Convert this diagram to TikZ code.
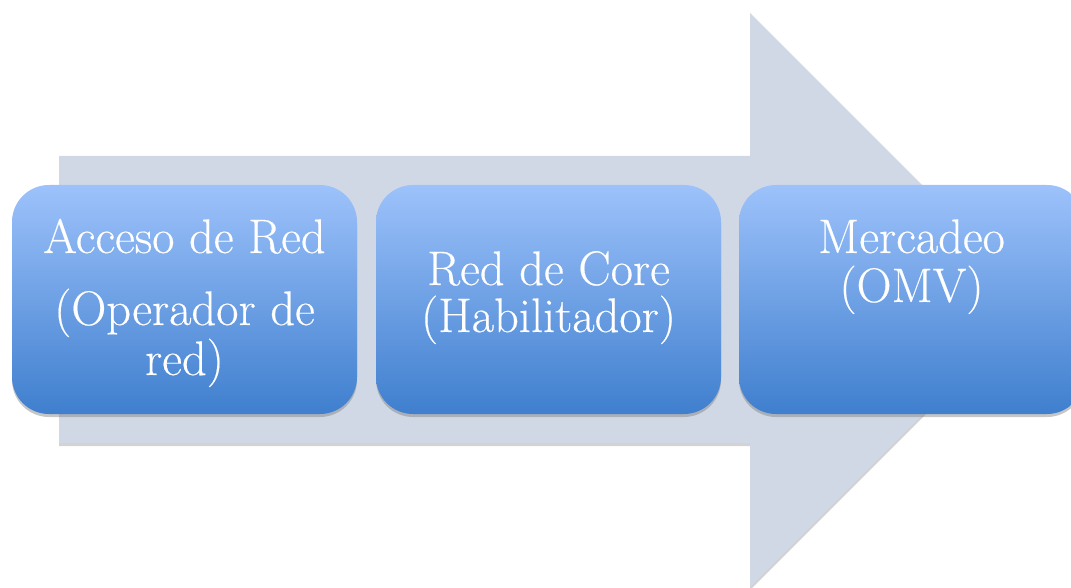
\documentclass[tikz,border=0pt]{standalone}
\usepackage{fontspec}
\setmainfont{Latin Modern Roman}[FakeBold=0.35]
\usetikzlibrary{shadows}
\definecolor{shaftc}{HTML}{D0D8E6}
\definecolor{boxtop}{HTML}{9DC2FB}
\definecolor{boxmid}{HTML}{7DA8EA}
\definecolor{boxbot}{HTML}{3F7FCE}
\tikzset{
  bigarrow/.style={fill=shaftc, draw=none, drop shadow={shadow xshift=0pt, shadow yshift=-3pt, opacity=0.35}},
  stage/.style={rounded corners=37pt, minimum width=345pt, minimum height=229pt, inner sep=0pt,
    top color=boxtop, middle color=boxmid, bottom color=boxbot, draw=none,
    drop shadow={shadow xshift=0pt, shadow yshift=-3pt, opacity=0.45}},
  lbl/.style={text=white, anchor=base, inner sep=0pt, font=\fontsize{48.5}{56}\selectfont}
}
\begin{document}
\begin{tikzpicture}[x=1pt, y=-1pt]
\useasboundingbox (0,0) rectangle (1071,588);
\clip (0,0) rectangle (1071,588);
\fill[bigarrow] (59,156) -- (750,156) -- (750,13) -- (1037,300) -- (750,587) -- (750,443) -- (59,443) -- cycle;
\node[stage] (b1) at (184.5,299.5) {};
\node[stage] (b2) at (548.5,299.5) {};
\node[stage] (b3) at (911.5,299.5) {};
\node[lbl] (t1a) at (184.5,253) {Acceso de Red};
\node[lbl] (t1b) at (184.5,325) {(Operador de};
\node[lbl] (t1c) at (184.5,375) {red)};
\node[lbl] (t2a) at (548.5,285) {Red de Core};
\node[lbl] (t2b) at (548.5,332) {(Habilitador)};
\node[lbl] (t3a) at (911.5,253) {Mercadeo};
\node[lbl] (t3b) at (911.5,302) {(OMV)};
\end{tikzpicture}
\end{document}
